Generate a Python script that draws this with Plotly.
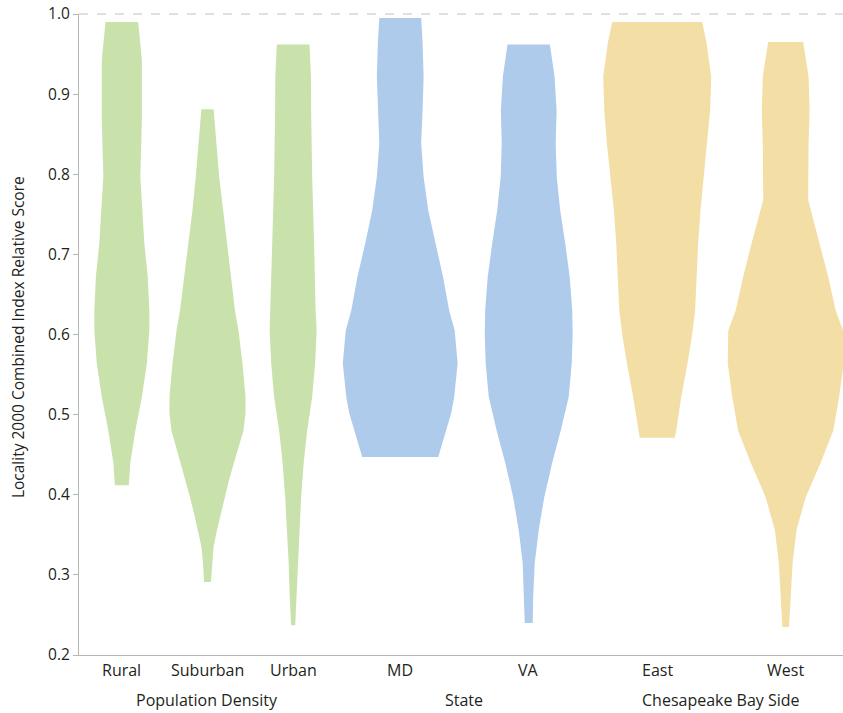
import plotly.graph_objects as go

# Groupings and categories along the x axis
group_names = ["Population Density", "State", "Chesapeake Bay Side"]
categories = ["Rural", "Suburban", "Urban", "MD", "VA", "East", "West"]
category_group = [0, 0, 0, 1, 1, 2, 2]

# Density outlines: score levels (top to bottom) and full violin width at each level
# (width in units of one group's span on the x axis)
rural_y = [0.990, 0.943, 0.868, 0.797, 0.755, 0.714, 0.672, 0.630, 0.605, 0.564, 0.522, 0.480, 0.440, 0.412]
rural_w = [0.127, 0.156, 0.156, 0.144, 0.160, 0.175, 0.202, 0.214, 0.214, 0.195, 0.156, 0.105, 0.066, 0.054]

suburban_y = [0.881, 0.839, 0.797, 0.755, 0.714, 0.672, 0.630, 0.605, 0.564, 0.522, 0.502, 0.480, 0.460,
              0.440, 0.418, 0.397, 0.377, 0.356, 0.335, 0.315, 0.291]
suburban_w = [0.048, 0.069, 0.091, 0.117, 0.148, 0.183, 0.214, 0.241, 0.272, 0.296, 0.296, 0.280, 0.245,
              0.206, 0.167, 0.136, 0.105, 0.074, 0.047, 0.035, 0.027]

urban_y = [0.962, 0.922, 0.880, 0.797, 0.714, 0.630, 0.605, 0.564, 0.522, 0.480, 0.440, 0.397, 0.356, 0.315, 0.273, 0.237]
urban_w = [0.127, 0.139, 0.140, 0.148, 0.163, 0.175, 0.183, 0.171, 0.148, 0.109, 0.082, 0.062, 0.047, 0.035, 0.027, 0.016]

md_y = [0.995, 0.964, 0.922, 0.880, 0.839, 0.797, 0.755, 0.714, 0.672, 0.630, 0.605, 0.564, 0.522, 0.502, 0.480, 0.447]
md_w = [0.163, 0.174, 0.182, 0.174, 0.163, 0.182, 0.218, 0.272, 0.333, 0.381, 0.424, 0.447, 0.420, 0.397, 0.358, 0.296]

va_y = [0.962, 0.922, 0.880, 0.839, 0.797, 0.755, 0.714, 0.672, 0.630, 0.600, 0.564, 0.522, 0.480, 0.440,
        0.397, 0.356, 0.315, 0.273, 0.240]
va_w = [0.165, 0.201, 0.217, 0.210, 0.218, 0.245, 0.284, 0.319, 0.339, 0.342, 0.335, 0.311, 0.249, 0.183,
        0.121, 0.078, 0.047, 0.035, 0.031]

east_y = [0.990, 0.964, 0.922, 0.880, 0.839, 0.797, 0.755, 0.714, 0.672, 0.630, 0.600, 0.564, 0.522, 0.480, 0.471]
east_w = [0.350, 0.384, 0.420, 0.412, 0.392, 0.362, 0.337, 0.319, 0.307, 0.295, 0.272, 0.236, 0.187, 0.148, 0.136]

west_y = [0.965, 0.922, 0.880, 0.839, 0.768, 0.755, 0.714, 0.672, 0.630, 0.605, 0.564, 0.522, 0.480, 0.440,
          0.397, 0.356, 0.315, 0.273, 0.235]
west_w = [0.136, 0.178, 0.186, 0.178, 0.175, 0.198, 0.265, 0.331, 0.389, 0.447, 0.451, 0.416, 0.370, 0.272,
          0.156, 0.084, 0.054, 0.039, 0.026]

profiles_y = [rural_y, suburban_y, urban_y, md_y, va_y, east_y, west_y]
profiles_w = [rural_w, suburban_w, urban_w, md_w, va_w, east_w, west_w]

y_ticks = [0.2, 0.3, 0.4, 0.5, 0.6, 0.7, 0.8, 0.9, 1.0]

group_colors = ["#c9e2ab", "#aecbec", "#f3dea6"]
text_color = "#231f20"
axis_color = "#b4b8b4"

# Category slots: each group spans one x unit, its categories evenly spaced inside it
group_sizes = [category_group.count(g) for g in range(len(group_names))]
centers = []
for i, g in enumerate(category_group):
    k = category_group[:i].count(g)
    centers.append(g + (k + 0.5) / group_sizes[g])

fig = go.Figure()
for name, c, g, ys, ws in zip(categories, centers, category_group, profiles_y, profiles_w):
    left = [c - w / 2 for w in ws]
    right = [c + w / 2 for w in ws]
    xs = left + right[::-1] + [left[0]]
    yy = list(ys) + list(ys)[::-1] + [ys[0]]
    fig.add_trace(go.Scatter(
        x=xs, y=yy, mode="lines", fill="toself",
        fillcolor=group_colors[g], line=dict(width=0, color=group_colors[g]),
        name=name, showlegend=False, hoverinfo="skip",
    ))

x_max = 2.973
fig.update_layout(
    width=843, height=713,
    margin=dict(l=79, r=0, t=14, b=58),
    paper_bgcolor="white", plot_bgcolor="white",
    font=dict(family="Open Sans, Noto Sans, sans-serif", size=16, color=text_color),
    xaxis=dict(range=[0, x_max], showgrid=False, zeroline=False, showticklabels=False,
               showline=True, linecolor=axis_color, linewidth=1, ticks=""),
    yaxis=dict(range=[0.2, 1.0], showgrid=False, zeroline=False,
               tickvals=y_ticks, ticktext=[f"{v:.1f}" for v in y_ticks],
               ticks="outside", ticklen=5, tickcolor=axis_color,
               showline=True, linecolor=axis_color, linewidth=1,
               tickfont=dict(size=15.5, color=text_color)),
)

# Top frame line
fig.add_shape(type="line", xref="paper", yref="paper", x0=0, x1=1, y0=1, y1=1,
              line=dict(color="#bfc2bf", width=1, dash="dash"))

# Category labels under the axis
for name, c in zip(categories, centers):
    fig.add_annotation(x=c, xref="x", y=-0.0234, yref="paper", text=name, showarrow=False,
                       xanchor="center", yanchor="middle", font=dict(size=16, color=text_color))

# Group labels below the categories
for g, gname in enumerate(group_names):
    fig.add_annotation(x=g + 0.5, xref="x", y=-0.0695, yref="paper", text=gname, showarrow=False,
                       xanchor="center", yanchor="middle", font=dict(size=16, color=text_color))

# Y axis title
fig.add_annotation(x=-0.0798, xref="paper", y=0.496, yref="paper",
                   text="Locality 2000 Combined Index Relative Score", textangle=-90,
                   showarrow=False, xanchor="center", yanchor="middle",
                   font=dict(size=15.5, color=text_color))

fig.write_html("out.html")
